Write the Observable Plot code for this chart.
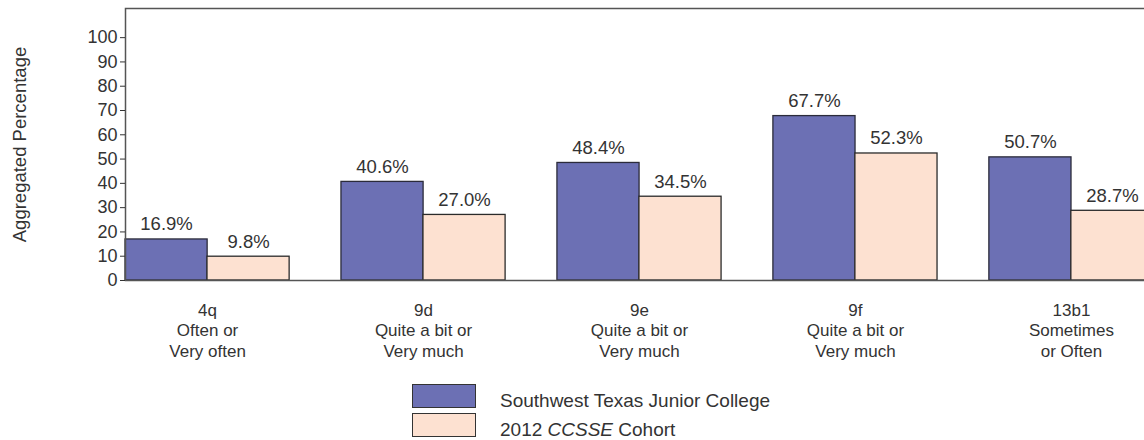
<!DOCTYPE html>
<html>
<head>
<meta charset="utf-8">
<script src="https://cdn.jsdelivr.net/npm/d3@7"></script>
<script src="https://cdn.jsdelivr.net/npm/@observablehq/plot@0.6"></script>
<style>
  html, body { margin: 0; padding: 0; background: #fff; overflow: hidden; }
  #wrap { width: 1144px; height: 440px; overflow: hidden; position: relative; font-family: "Liberation Sans", Arial, sans-serif; color: #333; }
  #chart svg { max-width: none !important; display: block; }
  #legend { margin-left: 412px; padding-top: 9px; }
  .row { display: flex; align-items: center; height: 24px; margin-bottom: 5px; }
  .sw { width: 62px; height: 22px; border: 1.5px solid #333; box-sizing: content-box; }
  .lab { margin-left: 24px; font-size: 19px; position: relative; top: 5px; }
</style>
</head>
<body>
<div id="wrap"><div id="chart"></div><div id="legend"></div></div>
<script>
const categories = ["4q", "9d", "9e", "9f", "13b1"];
const subLabels = ["Often or\nVery often", "Quite a bit or\nVery much", "Quite a bit or\nVery much", "Quite a bit or\nVery much", "Sometimes\nor Often"];
const seriesNames = ["Southwest Texas Junior College", "2012 CCSSE Cohort"];
const collegeValues = [16.9, 40.6, 48.4, 67.7, 50.7];
const cohortValues = [9.8, 27.0, 34.5, 52.3, 28.7];
const yTicks = [0, 10, 20, 30, 40, 50, 60, 70, 80, 90, 100];
const colors = ["#6c70b4", "#fde1d1"];

const college = categories.map((c, i) => ({category: c, value: collegeValues[i], series: seriesNames[0]}));
const cohort = categories.map((c, i) => ({category: c, value: cohortValues[i], series: seriesNames[1]}));
const labelOf = Object.fromEntries(categories.map((c, i) => [c, c + "\n" + subLabels[i]]));

const half = 82;
const plot = Plot.plot({
  width: 1160,
  height: 375,
  marginLeft: 125,
  marginRight: 7,
  marginTop: 8,
  marginBottom: 95,
  style: {fontFamily: "Liberation Sans, Arial, sans-serif", color: "#333", background: "#fff", maxWidth: "none"},
  x: {domain: categories, paddingInner: 0.24, paddingOuter: 0, align: 0, round: false},
  y: {domain: [0, 112]},
  marks: [
    Plot.barY(college, {x: "category", y: "value", fill: colors[0], stroke: "#2b2b3a", strokeWidth: 1.3, insetRight: half}),
    Plot.barY(cohort, {x: "category", y: "value", fill: colors[1], stroke: "#2b2b2b", strokeWidth: 1.3, insetLeft: half}),
    Plot.text(college, {x: "category", y: "value", text: d => d.value.toFixed(1) + "%", dx: -half / 2, dy: -9, lineAnchor: "bottom", fontSize: 18.5, fill: "#333"}),
    Plot.text(cohort, {x: "category", y: "value", text: d => d.value.toFixed(1) + "%", dx: half / 2, dy: -9, lineAnchor: "bottom", fontSize: 18.5, fill: "#333"}),
    Plot.frame({stroke: "#555", strokeWidth: 1.5}),
    Plot.axisY({ticks: yTicks, tickSize: 5, tickPadding: 3, fontSize: 18, label: null, stroke: "#333"}),
    Plot.axisX({tickSize: 0, tickPadding: 21, tickFormat: d => labelOf[d], fontSize: 17, lineHeight: 1.2, label: null}),
    Plot.text(["Aggregated Percentage"], {frameAnchor: "left", dx: -105, rotate: -90, textAnchor: "middle", fontSize: 18.5, fill: "#333", text: d => d, letterSpacing: 1.2})
  ]
});
document.getElementById("chart").appendChild(plot);

const legend = document.getElementById("legend");
legend.innerHTML = `
  <div class="row"><div class="sw" style="background:${colors[0]}"></div><div class="lab">${seriesNames[0]}</div></div>
  <div class="row"><div class="sw" style="background:${colors[1]}"></div><div class="lab">2012 <i>CCSSE</i> Cohort</div></div>`;
</script>
</body>
</html>
